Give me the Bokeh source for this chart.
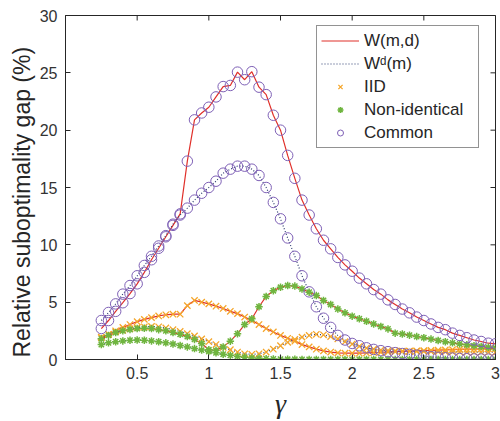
import math
from bokeh.plotting import figure
from bokeh.models import Legend, LegendItem, FixedTicker, Range1d, Title
from bokeh.embed import file_html
from bokeh.resources import INLINE

gamma = [0.25, 0.30, 0.35, 0.40, 0.45, 0.50, 0.55, 0.60, 0.65, 0.70, 0.75, 0.80,
         0.85, 0.90, 0.95, 1.00, 1.05, 1.10, 1.15, 1.20,
         1.25, 1.30, 1.35, 1.40, 1.45, 1.50, 1.55, 1.60,
         1.65, 1.70, 1.75, 1.80, 1.85, 1.90, 1.95, 2.00,
         2.05, 2.10, 2.15, 2.20, 2.25, 2.30, 2.35, 2.40,
         2.45, 2.50, 2.55, 2.60, 2.65, 2.70, 2.75, 2.80,
         2.85, 2.90, 2.95, 3.00]

# W(m,d) (solid line)
common_w = [2.7, 3.4, 4.2, 4.95, 5.75, 6.6, 7.6, 8.7, 9.7, 10.7, 11.7, 12.7,
            17.3, 20.9, 21.5, 22.0, 22.9, 23.8, 23.9, 25.06,
            24.4, 25.1, 23.75, 23.1, 21.3, 20.0, 17.8, 15.8,
            13.9, 12.6, 11.4, 10.4, 9.65, 8.9, 8.25, 7.7,
            7.1, 6.6, 6.1, 5.7, 5.2, 4.8, 4.4, 4.07,
            3.7, 3.4, 3.1, 2.8, 2.6, 2.3, 2.1, 1.9,
            1.7, 1.57, 1.42, 1.37]
iid_w = [1.9, 2.2, 2.5, 2.8, 3.05, 3.3, 3.5, 3.65, 3.8, 3.9, 3.95, 3.95,
         4.7, 5.15, 5.0, 4.85, 4.65, 4.45, 4.2, 4.0,
         3.7, 3.4, 3.05, 2.7, 2.4, 2.1, 1.85, 1.6,
         1.3, 1.1, 0.9, 0.75, 0.65, 0.58, 0.55, 0.55,
         0.55, 0.57, 0.6, 0.62, 0.65, 0.68, 0.7, 0.73,
         0.76, 0.78, 0.8, 0.82, 0.84, 0.86, 0.88, 0.9,
         0.91, 0.92, 0.93, 0.94]
nonid_w = [1.8, 2.1, 2.35, 2.5, 2.62, 2.7, 2.72, 2.7, 2.6, 2.5, 2.35, 2.2,
           2.0, 1.75, 1.4, 0.85, 0.8, 1.1, 1.6, 2.25,
           3.05, 3.55, 4.6, 5.5, 6.0, 6.3, 6.45, 6.4,
           6.15, 5.87, 5.58, 5.15, 4.8, 4.4, 4.07, 3.78,
           3.55, 3.34, 3.1, 2.88, 2.67, 2.3, 2.22, 2.12,
           2.0, 1.9, 1.78, 1.66, 1.55, 1.45, 1.36, 1.28,
           1.2, 1.13, 1.06, 1.0]

# W^d(m) (dotted line)
common_wd = [3.4, 4.1, 4.85, 5.7, 6.45, 7.3, 8.2, 9.0, 9.9, 10.8, 11.8, 12.6,
             13.2, 13.9, 14.5, 15.0, 15.55, 16.25, 16.6, 16.86,
             16.86, 16.6, 16.05, 15.0, 13.7, 12.27, 10.6, 9.0,
             7.3, 5.9, 4.6, 3.6, 2.8, 2.1, 1.7, 1.4,
             1.2, 1.02, 0.88, 0.77, 0.68, 0.6, 0.52, 0.45,
             0.38, 0.3, 0.24, 0.19, 0.15, 0.12, 0.09, 0.07,
             0.05, 0.04, 0.03, 0.02]
iid_wd = [1.95, 2.2, 2.4, 2.55, 2.68, 2.78, 2.85, 2.88, 2.85, 2.75, 2.6, 2.45,
          2.25, 2.05, 1.8, 1.55, 1.3, 1.05, 0.85, 0.65,
          0.5, 0.45, 0.5, 0.65, 0.9, 1.2, 1.5, 1.75,
          1.95, 2.1, 2.2, 2.15, 2.0, 1.8, 1.55, 1.35,
          1.15, 1.0, 0.9, 0.82, 0.78, 0.75, 0.73, 0.72,
          0.71, 0.7, 0.69, 0.68, 0.67, 0.66, 0.66, 0.65,
          0.65, 0.64, 0.64, 0.63]
nonid_wd = [1.3, 1.45, 1.55, 1.62, 1.68, 1.7, 1.68, 1.62, 1.55, 1.45, 1.35, 1.22,
            1.1, 0.95, 0.82, 0.7, 0.58, 0.46, 0.36, 0.27,
            0.2, 0.14, 0.1, 0.07, 0.05, 0.03, 0.02, 0.02,
            0.01, 0.01, 0.01, 0.01, 0.01, 0.01, 0.01, 0.01,
            0.01, 0.01, 0.01, 0.01, 0.01, 0.01, 0.01, 0.01,
            0.01, 0.01, 0.01, 0.01, 0.01, 0.01, 0.01, 0.01,
            0.01, 0.01, 0.01, 0.01]

x_ticks = [0.5, 1, 1.5, 2, 2.5, 3]
y_ticks = [0, 5, 10, 15, 20, 25, 30]
x_lim = [0, 3]
y_lim = [0, 30]

RED = "#e0302a"
DOT = "#2f3f70"
ORANGE = "#f5a62a"
GREEN = "#6fb53f"
PURPLE = "#7e60b6"
AXC = "#262626"
FONT = "Liberation Sans"

p = figure(width=500, height=421, output_backend="svg", toolbar_location=None,
           x_range=Range1d(*x_lim), y_range=Range1d(*y_lim),
           min_border_left=65, min_border_right=5, min_border_top=15, min_border_bottom=62)
p.grid.visible = False
p.outline_line_color = AXC
p.outline_line_width = 1

# lines
r_line_w = None
r_line_wd = None
for ys in [iid_w, nonid_w, common_w]:
    r_line_w = p.line(gamma, ys, line_color=RED, line_width=1.2)
for ys in [iid_wd, nonid_wd, common_wd]:
    r_line_wd = p.line(gamma, ys, line_color=DOT, line_width=1.2, line_dash="1 2")

# markers
r_iid = None
r_non = None
r_com = None
for ys in [iid_w, iid_wd]:
    r_iid = p.scatter(gamma, ys, marker="x", size=9, line_color=ORANGE, line_width=1.3)
for ys in [nonid_w, nonid_wd]:
    r_non = p.scatter(gamma, ys, marker="asterisk", size=7.5, line_color=GREEN, line_width=1.5)
for ys in [common_w, common_wd]:
    r_com = p.scatter(gamma, ys, marker="circle", size=10.5, fill_color=None,
                      line_color=PURPLE, line_width=1.0)

# box ticks on top and right edges (inward half of a dash marker, rest clipped)
p.scatter(x_ticks, [y_lim[1]] * len(x_ticks), marker="dash", angle=math.pi / 2,
          size=10, line_color=AXC, line_width=1)
p.scatter([x_lim[1]] * len(y_ticks), y_ticks, marker="dash",
          size=10, line_color=AXC, line_width=1)

# axes
for ax in [p.xaxis[0], p.yaxis[0]]:
    ax.major_tick_in = 5
    ax.major_tick_out = 0
    ax.minor_tick_in = 0
    ax.minor_tick_out = 0
    ax.axis_line_color = AXC
    ax.major_tick_line_color = AXC
    ax.major_label_text_font = FONT
    ax.major_label_text_font_size = "16px"
    ax.major_label_text_color = "#333333"

p.xaxis.ticker = FixedTicker(ticks=x_ticks)
p.yaxis.ticker = FixedTicker(ticks=y_ticks)
p.xaxis.major_label_standoff = 7
p.yaxis.major_label_standoff = 8
p.xaxis.axis_label = "γ"
p.xaxis.axis_label_text_font = "Liberation Serif"
p.xaxis.axis_label_text_font_style = "italic"
p.xaxis.axis_label_text_font_size = "28px"
p.xaxis.axis_label_text_color = AXC
p.xaxis.axis_label_standoff = 6

# y-axis title, anchored near the bottom of the frame as in the reference
ytitle = Title(text="Relative suboptimality gap (%)", align="left", offset=2,
               text_font=FONT, text_font_size="23px", text_font_style="normal",
               text_color=AXC, standoff=4)
p.add_layout(ytitle, "left")

legend = Legend(items=[
    LegendItem(label="W(m,d)", renderers=[r_line_w]),
    LegendItem(label="Wᵈ(m)", renderers=[r_line_wd]),
    LegendItem(label="IID", renderers=[r_iid]),
    LegendItem(label="Non-identical", renderers=[r_non]),
    LegendItem(label="Common", renderers=[r_com]),
], location=(251, 211))
legend.margin = 0
legend.padding = 4
legend.spacing = 2
legend.glyph_width = 38
legend.glyph_height = 15
legend.label_height = 21
legend.label_width = 110
legend.label_standoff = 5
legend.label_text_font = FONT
legend.label_text_font_size = "17px"
legend.label_text_color = AXC
legend.border_line_color = AXC
legend.border_line_width = 1
legend.background_fill_color = "white"
p.add_layout(legend)

open("out.html", "w").write(file_html(p, INLINE))
